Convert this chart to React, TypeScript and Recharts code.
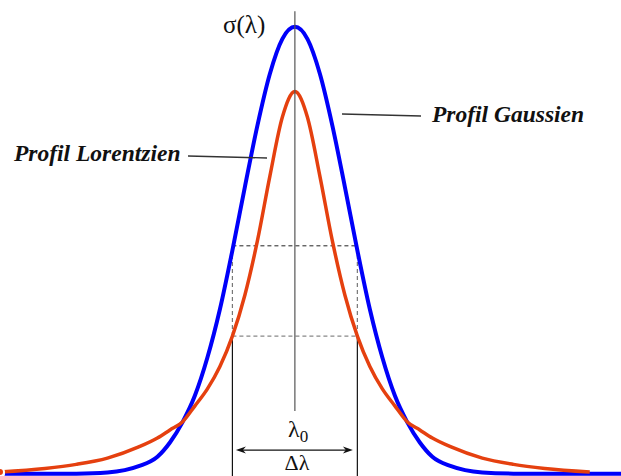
import { LineChart, Line, XAxis, YAxis, ReferenceLine } from 'recharts'

// Wavelength offset from λ0, in units of half the FWHM (Δλ = 2)
const LAMBDA = [
  -4.72, -4.0, -3.5, -3.0, -2.5, -2.2, -2.0, -1.8, -1.6, -1.4, -1.2, -1.0, -0.8, -0.6, -0.4, -0.2,
  0, 0.2, 0.4, 0.6, 0.8, 1.0, 1.2, 1.4, 1.6, 1.8, 2.0, 2.2, 2.5, 3.0, 3.5, 4.0, 4.72, 5.22,
]

// Gaussian profile, peak normalised to 1
const GAUSS = [
  0, 0, 0.0003, 0.003, 0.017, 0.038, 0.07, 0.115, 0.175, 0.26, 0.368, 0.5, 0.642, 0.779, 0.895, 0.973,
  1, 0.973, 0.895, 0.779, 0.642, 0.5, 0.368, 0.26, 0.175, 0.115, 0.07, 0.038, 0.017, 0.003, 0.0003, 0, 0, 0,
]

// Lorentzian profile (stops short of the right edge)
const LORENTZ = [
  0.004, 0.012, 0.021, 0.035, 0.06, 0.08, 0.098, 0.116, 0.152, 0.19, 0.24, 0.308, 0.4, 0.521, 0.666, 0.798,
  0.855, 0.798, 0.666, 0.521, 0.4, 0.308, 0.24, 0.19, 0.152, 0.116, 0.098, 0.08, 0.06, 0.035, 0.021, 0.012, 0.004, null,
]

const HALF_GAUSS = 0.51
const HALF_LORENTZ = 0.308

const data = LAMBDA.map((lam, i) => ({ lam, gauss: GAUSS[i], lorentz: LORENTZ[i] }))

const W = 621
const H = 476
const BLUE = '#0000fa'
const RED = '#e5400f'

const serif = "'Liberation Serif', 'Times New Roman', serif"

// double-headed arrow for the Δλ width
const DoubleArrow = (p: any) => {
  const { x1, y1, x2, y2 } = p
  const s = 7
  return (
    <g stroke="#111" strokeWidth={1.3} fill="#111">
      <line x1={x1 + 3} y1={y1} x2={x2 - 3} y2={y2} />
      <path d={`M${x1},${y1} L${x1 + s + 3},${y1 - 3.5} L${x1 + s},${y1} L${x1 + s + 3},${y1 + 3.5} Z`} stroke="none" />
      <path d={`M${x2},${y2} L${x2 - s - 3},${y2 - 3.5} L${x2 - s},${y2} L${x2 - s - 3},${y2 + 3.5} Z`} stroke="none" />
    </g>
  )
}

export default function App() {
  return (
    <div style={{ position: 'fixed', left: 0, top: 0, width: W, height: H, background: '#fff' }}>
      <LineChart width={W} height={H} data={data} margin={{ top: 0, right: 0, bottom: 0, left: 0 }}>
        <XAxis dataKey="lam" type="number" domain={[-4.72, 5.216]} hide />
        <YAxis type="number" domain={[-0.005, 1.06]} hide />

        {/* half-maximum box */}
        <ReferenceLine
          segment={[{ x: -1, y: HALF_GAUSS }, { x: 1, y: HALF_GAUSS }]}
          stroke="#222"
          strokeWidth={1}
          strokeDasharray="4 3"
        />
        <ReferenceLine
          segment={[{ x: -1, y: HALF_LORENTZ }, { x: 1, y: HALF_LORENTZ }]}
          stroke="#888"
          strokeWidth={1.4}
          strokeDasharray="4 3"
        />
        {[-1, 1].map(x => (
          <ReferenceLine
            key={`dash${x}`}
            segment={[{ x, y: HALF_LORENTZ }, { x, y: HALF_GAUSS }]}
            stroke="#777"
            strokeWidth={1.2}
            strokeDasharray="4 3"
          />
        ))}
        {[-1, 1].map(x => (
          <ReferenceLine
            key={`solid${x}`}
            segment={[{ x, y: HALF_LORENTZ }, { x, y: -0.005 }]}
            stroke="#111"
            strokeWidth={1.2}
          />
        ))}
        <ReferenceLine
          segment={[{ x: -0.944, y: 0.053 }, { x: 0.928, y: 0.053 }]}
          shape={DoubleArrow}
        />

        <Line
          type="monotone"
          dataKey="gauss"
          stroke={BLUE}
          strokeWidth={4}
          dot={false}
          isAnimationActive={false}
        />
        <Line
          type="monotone"
          dataKey="lorentz"
          stroke={RED}
          strokeWidth={3.5}
          dot={false}
          isAnimationActive={false}
        />

        {/* vertical axis at λ0 */}
        <ReferenceLine
          segment={[{ x: 0, y: 0.1405 }, { x: 0, y: 1.035 }]}
          stroke="#555"
          strokeWidth={1.2}
        />
      </LineChart>

      {/* labels and leader lines */}
      <svg
        width={W}
        height={H}
        style={{ position: 'absolute', left: 0, top: 0, pointerEvents: 'none' }}
      >
        <text x={223} y={33} fontFamily={serif} fontSize={25} fill="#111">σ(λ)</text>

        <line x1={188} y1={156} x2={267} y2={158} stroke="#333" strokeWidth={1.4} />
        <text x={14} y={161} fontFamily={serif} fontSize={23.5} fontStyle="italic" fontWeight="bold" fill="#111">
          Profil Lorentzien
        </text>

        <line x1={342} y1={114} x2={421} y2={116} stroke="#333" strokeWidth={1.4} />
        <text x={432} y={122} fontFamily={serif} fontSize={23.5} fontStyle="italic" fontWeight="bold" fill="#111">
          Profil Gaussien
        </text>

        <text x={288} y={437} fontFamily={serif} fontSize={24} fill="#111">
          λ<tspan fontSize={17} dy={5}>0</tspan>
        </text>
        <text x={297} y={470} fontFamily={serif} fontSize={22} fill="#111" textAnchor="middle">Δλ</text>
      </svg>
    </div>
  )
}
